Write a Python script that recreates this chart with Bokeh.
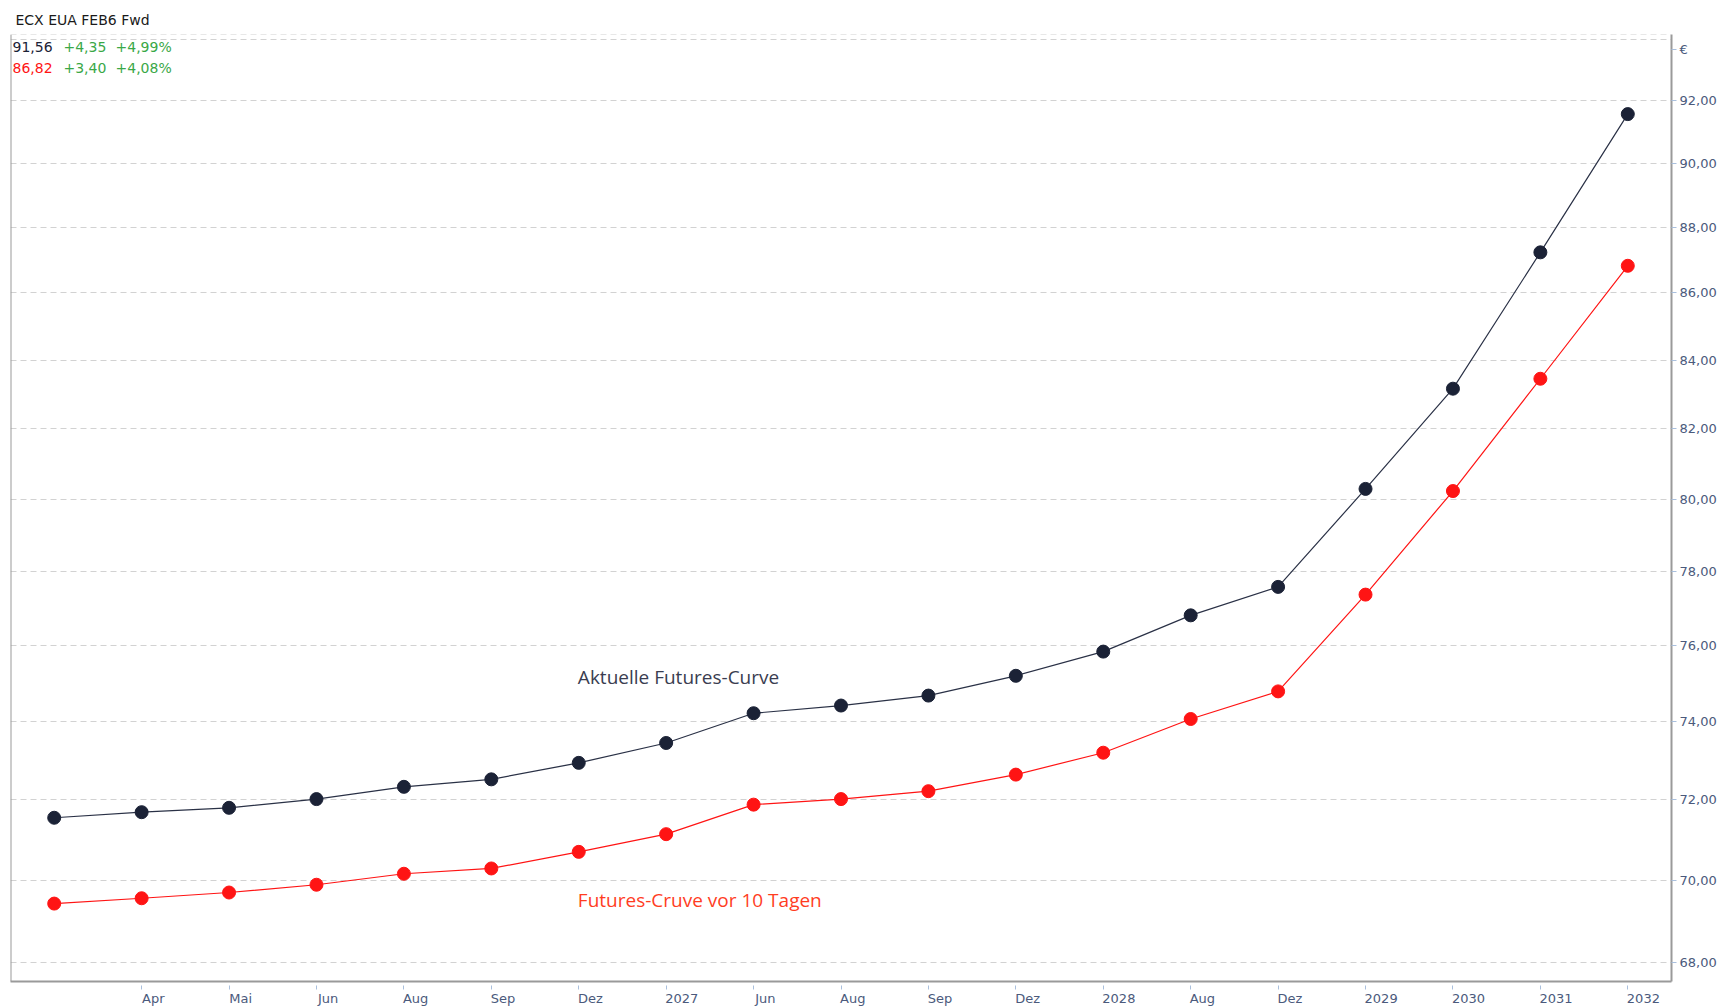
from bokeh.plotting import figure
from bokeh.models import Range1d, FixedTicker, CustomJSTickFormatter, Span, Label, LinearAxis
from bokeh.embed import file_html
from bokeh.resources import INLINE

# ---- data ----
tick_labels = ["Apr", "Mai", "Jun", "Aug", "Sep", "Dez", "2027", "Jun", "Aug",
               "Sep", "Dez", "2028", "Aug", "Dez", "2029", "2030", "2031", "2032"]
current_curve = [71.55, 71.69, 71.80, 72.02, 72.33, 72.52, 72.94, 73.45, 74.22, 74.42,
                 74.68, 75.20, 75.84, 76.81, 77.58, 80.29, 83.16, 87.23, 91.56]
prior_curve = [69.43, 69.56, 69.70, 69.89, 70.16, 70.29, 70.70, 71.14, 71.88, 72.02,
               72.22, 72.64, 73.20, 74.07, 74.79, 77.37, 80.23, 83.45, 86.82]
y_ticks = [68, 70, 72, 74, 76, 78, 80, 82, 84, 86, 88, 90, 92]
grid_ticks = y_ticks + [94]
title_text = "ECX EUA FEB6 Fwd"
unit_text = "€"
current_stats = ["91,56", "+4,35", "+4,99%"]
prior_stats = ["86,82", "+3,40", "+4,08%"]
current_name = "Aktuelle Futures-Curve"
prior_name = "Futures-Cruve vor 10 Tagen"

x = list(range(len(current_curve)))

NAVY = "#1b2236"
RED = "#ff1414"
GREEN = "#3aa847"
AXIS_TXT = "#4b5a7c"
TICK = "#a9bfdc"
FONT = "DejaVu Sans"
Y_TOP = 94.15
Y_UNIT = 93.65

p = figure(width=1725, height=1008, y_axis_type="log", y_axis_location="right",
           x_range=Range1d(-0.5, 18.5), y_range=Range1d(67.56, Y_TOP),
           output_backend="svg", toolbar_location=None,
           min_border_left=10, min_border_right=54, min_border_top=34, min_border_bottom=26)

p.title.text = title_text
p.title.align = "left"
p.title.offset = 5
p.title.standoff = 13
p.title.text_font = FONT
p.title.text_font_size = "14px"
p.title.text_font_style = "normal"
p.title.text_color = "#1a1a1a"

p.outline_line_color = None
p.background_fill_color = "white"
p.border_fill_color = "white"

# grid
p.xgrid.visible = False
p.ygrid.ticker = FixedTicker(ticks=grid_ticks)
p.ygrid.grid_line_color = "#d2d2d2"
p.ygrid.grid_line_dash = "6 4"
p.ygrid.grid_line_width = 1

# borders
p.add_layout(Span(location=-0.5, dimension="height", line_color="#9a9a9a", line_width=2))
p.add_layout(Span(location=Y_TOP, dimension="width", line_color="#d2d2d2",
                  line_width=1, line_dash="6 4"))

# y axis (right)
ya = p.yaxis[0]
ya.ticker = FixedTicker(ticks=y_ticks + [Y_UNIT])
ya.formatter = CustomJSTickFormatter(args=dict(unit=unit_text),
    code="return tick > 93 ? unit : tick.toFixed(2).replace('.', ',');")
ya.major_tick_in = 0
ya.major_tick_out = 5
ya.major_tick_line_color = TICK
ya.minor_tick_line_color = None
ya.axis_line_color = "#9a9a9a"
ya.axis_line_width = 2
ya.major_label_text_font = FONT
ya.major_label_text_font_size = "13px"
ya.major_label_text_color = AXIS_TXT
ya.major_label_standoff = 3

# x axis: tick marks only (closest to frame)
xa = p.xaxis[0]
xa.ticker = FixedTicker(ticks=list(range(1, len(tick_labels) + 1)))
xa.formatter = CustomJSTickFormatter(code="return '';")
xa.major_label_text_font_size = "0px"
xa.major_label_standoff = 0
xa.major_tick_in = -4
xa.major_tick_out = 8
xa.major_tick_line_color = TICK
xa.minor_tick_line_color = None
xa.axis_line_color = "#9a9a9a"
xa.axis_line_width = 2

# x axis: labels, starting at the tick (left aligned)
half_w = [len(s) * 3.9 / 87.4 for s in tick_labels]
label_pos = [i + 1 + h for i, h in enumerate(half_w)]
xl = LinearAxis(ticker=FixedTicker(ticks=label_pos),
                formatter=CustomJSTickFormatter(args=dict(labels=tick_labels, pos=label_pos),
                    code="let b=0,d=1e9; for (let i=0;i<pos.length;i++){const e=Math.abs(pos[i]-tick); if(e<d){d=e;b=i;}} return labels[b];"))
xl.axis_line_color = None
xl.major_tick_line_color = None
xl.minor_tick_line_color = None
xl.major_tick_in = 0
xl.major_tick_out = 0
xl.major_label_standoff = 1
xl.major_label_text_font = FONT
xl.major_label_text_font_size = "13px"
xl.major_label_text_color = AXIS_TXT
p.add_layout(xl, "below")

# series
p.line(x, current_curve, line_color="#2a3146", line_width=1.2)
p.scatter(x, current_curve, size=13, fill_color=NAVY, line_color=NAVY)
p.line(x, prior_curve, line_color=RED, line_width=1.2)
p.scatter(x, prior_curve, size=13, fill_color=RED, line_color=RED)

# annotations
p.add_layout(Label(x=5.99, y=75.16, text=current_name, text_font="Open Sans",
                   text_font_size="19px", text_color="#3a3d50", text_baseline="middle"))
p.add_layout(Label(x=5.99, y=69.52, text=prior_name, text_font="Open Sans",
                   text_font_size="19px", text_color="#ff3d1f", text_baseline="middle"))

# stats legend top-left
xs = [-0.477, 0.106, 0.701]
for row_y, stats, first_col in [(93.73, current_stats, NAVY), (93.04, prior_stats, RED)]:
    for i, s in enumerate(stats):
        p.add_layout(Label(x=xs[i], y=row_y, text=s, text_font=FONT, text_font_size="14px",
                           text_color=first_col if i == 0 else GREEN, text_baseline="middle"))

open("out.html", "w").write(file_html(p, INLINE))
